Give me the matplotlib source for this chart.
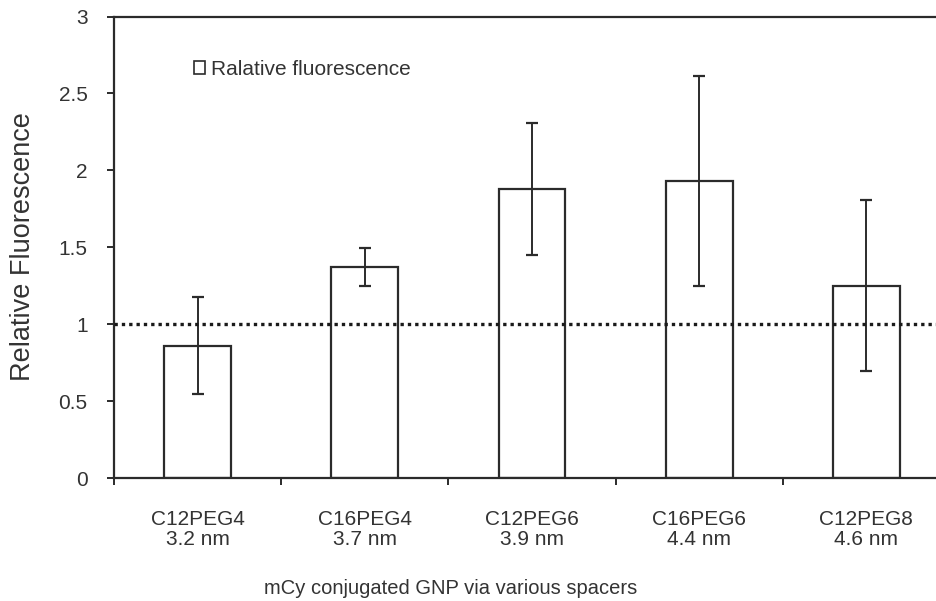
import matplotlib.pyplot as plt
import matplotlib.patches as mpatches

plt.rcParams['font.family'] = ['Liberation Sans', 'DejaVu Sans']

spacers = ['C12PEG4', 'C16PEG4', 'C12PEG6', 'C16PEG6', 'C12PEG8']
lengths = ['3.2 nm', '3.7 nm', '3.9 nm', '4.4 nm', '4.6 nm']
fluor = [0.86, 1.37, 1.88, 1.93, 1.25]  # relative fluorescence
err = [0.315, 0.125, 0.43, 0.68, 0.555]  # error bars
yticks = [0, 0.5, 1, 1.5, 2, 2.5, 3]
ytick_labels = ['0', '0.5', '1', '1.5', '2', '2.5', '3']
baseline = 1

ink = '#2b2b2b'
txt = '#333333'

fig = plt.figure(figsize=(9.36, 6.01), dpi=100)
# axes runs past the right edge, as in the cropped original
ax = fig.add_axes([114/936, 1-478/601, (950-114)/936, (478-16.5)/601])

x = list(range(len(spacers)))
ax.bar(x, fluor, width=0.4, color='white', edgecolor=ink, linewidth=1.6, zorder=2)
ax.errorbar(x, fluor, yerr=err, fmt='none', ecolor=ink, elinewidth=1.4,
            capsize=4.5, capthick=1.6, zorder=3)
ax.axhline(baseline, color='#1a1a1a', linestyle=(0, (1, 1.2)), linewidth=2.4, zorder=4)

ax.set_xlim(-0.5, len(spacers)-0.5)
ax.set_ylim(0, 3)

# boundary ticks on the x axis, labels in the middle of each group
ax.set_xticks([i-0.5 for i in range(len(spacers)+1)])
ax.set_xticklabels([])
ax.set_xticks(x, minor=True)
ax.set_xticklabels([s+'\n'+l for s, l in zip(spacers, lengths)], minor=True,
                   fontsize=15, color=txt, linespacing=1.1)
ax.tick_params(axis='x', which='minor', length=0, pad=23)
ax.tick_params(axis='x', which='major', length=5, width=1.4, color=ink, direction='out')

ax.set_yticks(yticks)
ax.set_yticklabels(ytick_labels, fontsize=15, color=txt)
ax.tick_params(axis='y', length=5, width=1.4, color=ink, direction='out', pad=14)

for side in ['left', 'bottom', 'top', 'right']:
    ax.spines[side].set_color(ink)
    ax.spines[side].set_linewidth(1.6)

fig.text(23/936, 1-247/601, 'Relative Fluorescence', rotation=90,
         fontsize=19.5, color=txt, ha='center', va='center')
fig.text(451/936, 1-594/601, 'mCy conjugated GNP via various spacers',
         fontsize=14.5, color=txt, ha='center', va='baseline')

handle = mpatches.Patch(facecolor='white', edgecolor=ink, linewidth=1.2)
ax.legend([handle], ['Ralative fluorescence'], loc='upper left',
          bbox_to_anchor=(194/936, 1-60/601), bbox_transform=fig.transFigure,
          frameon=False, fontsize=15, handlelength=0.55, handleheight=0.55,
          handletextpad=0.25, borderpad=0, borderaxespad=0, labelcolor=txt)

fig.savefig('out.png', dpi=100)
